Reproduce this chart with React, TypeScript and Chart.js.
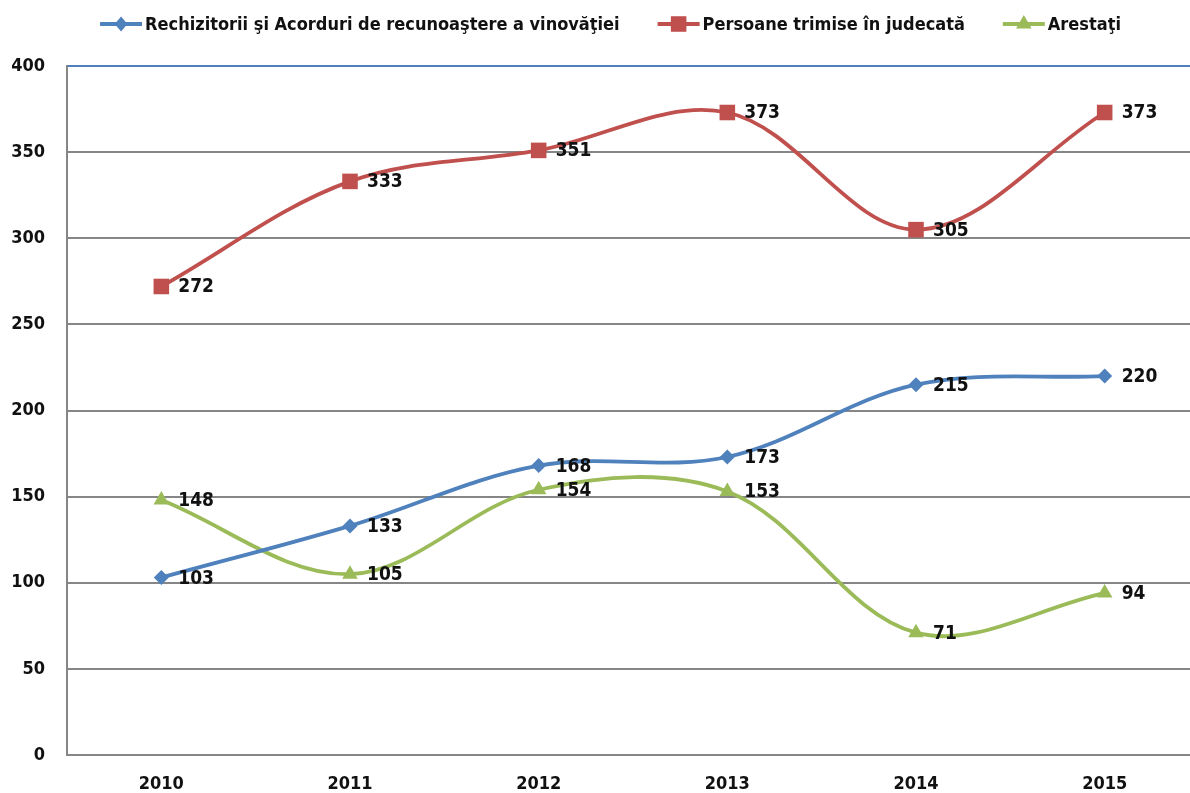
import React, { useEffect, useRef } from "react";
import { Chart, registerables } from "chart.js";

Chart.register(...registerables);

// ---- data ----
const years = ["2010", "2011", "2012", "2013", "2014", "2015"];
const rechizitorii = [103, 133, 168, 173, 215, 220];
const persoane = [272, 333, 351, 373, 305, 373];
const arestati = [148, 105, 154, 153, 71, 94];
const seriesNames = [
  "Rechizitorii şi Acorduri de recunoaştere a vinovăţiei",
  "Persoane trimise în judecată",
  "Arestaţi",
];
const yMin = 0;
const yMax = 400;
const yStep = 50;

// ---- styles ----
const BLUE = "#4F81BD";
const RED = "#C0504D";
const GREEN = "#9BBB59";
const GRID = "#868686";
const TEXT = "#111111";
const FONT_FAMILY = "'DejaVu Sans Condensed', 'DejaVu Sans', sans-serif";
const CANVAS_W = 1210;

type Marker = { style: "rectRot" | "rect" | "triangle"; radius: number };
const markers: Marker[] = [
  { style: "rectRot", radius: 7.5 },
  { style: "rect", radius: 11 },
  { style: "triangle", radius: 9 },
];
const colors = [BLUE, RED, GREEN];

function drawMarker(ctx: CanvasRenderingContext2D, m: Marker, x: number, y: number, color: string) {
  ctx.save();
  ctx.fillStyle = color;
  ctx.beginPath();
  const r = m.radius;
  if (m.style === "rect") {
    const s = Math.SQRT1_2 * r;
    ctx.rect(x - s, y - s, 2 * s, 2 * s);
  } else if (m.style === "rectRot") {
    ctx.moveTo(x, y - r);
    ctx.lineTo(x + r * 0.85, y);
    ctx.lineTo(x, y + r);
    ctx.lineTo(x - r * 0.85, y);
    ctx.closePath();
  } else {
    ctx.moveTo(x, y - r);
    ctx.lineTo(x + r * 0.866, y + r * 0.5);
    ctx.lineTo(x - r * 0.866, y + r * 0.5);
    ctx.closePath();
  }
  ctx.fill();
  ctx.restore();
}

const legendPlugin = {
  id: "customLegend",
  afterDraw(chart: any) {
    const ctx: CanvasRenderingContext2D = chart.ctx;
    ctx.save();
    ctx.font = `bold 18px ${FONT_FAMILY}`;
    const symW = 42;
    const gapSym = 3;
    const gapItem = 38;
    const y = 24;
    const widths = seriesNames.map((n) => symW + gapSym + ctx.measureText(n).width);
    const total = widths.reduce((a, b) => a + b, 0) + gapItem * (widths.length - 1);
    let x = 610.5 - total / 2;
    seriesNames.forEach((name, i) => {
      ctx.strokeStyle = colors[i];
      ctx.lineWidth = 4;
      ctx.beginPath();
      ctx.moveTo(x, y);
      ctx.lineTo(x + symW, y);
      ctx.stroke();
      drawMarker(ctx, markers[i], x + symW / 2, y, colors[i]);
      ctx.fillStyle = TEXT;
      ctx.textAlign = "left";
      ctx.textBaseline = "middle";
      ctx.fillText(name, x + symW + gapSym, y + 1);
      x += widths[i] + gapItem;
    });
    ctx.restore();
  },
};

const dataLabelPlugin = {
  id: "dataLabels",
  afterDatasetsDraw(chart: any) {
    const ctx: CanvasRenderingContext2D = chart.ctx;
    ctx.save();
    ctx.font = `bold 19px ${FONT_FAMILY}`;
    ctx.fillStyle = TEXT;
    ctx.textAlign = "left";
    ctx.textBaseline = "middle";
    chart.data.datasets.forEach((ds: any, di: number) => {
      const meta = chart.getDatasetMeta(di);
      meta.data.forEach((pt: any, i: number) => {
        ctx.fillText(String(ds.data[i]), pt.x + 17, pt.y + 1);
      });
    });
    ctx.restore();
  },
};

export default function App() {
  const ref = useRef<HTMLCanvasElement | null>(null);

  useEffect(() => {
    if (!ref.current) return;
    const series = [rechizitorii, persoane, arestati];
    const chart = new Chart(ref.current, {
      type: "line",
      data: {
        labels: years,
        datasets: series.map((d, i) => ({
          label: seriesNames[i],
          data: d,
          borderColor: colors[i],
          backgroundColor: colors[i],
          borderWidth: 3.8,
          pointStyle: markers[i].style,
          pointRadius: markers[i].radius,
          pointHoverRadius: markers[i].radius,
          pointBorderWidth: 0,
          pointBackgroundColor: colors[i],
          pointBorderColor: colors[i],
          tension: 0.35,
          fill: false,
        })),
      },
      options: {
        animation: false,
        responsive: false,
        devicePixelRatio: 1,
        layout: { padding: { top: 66, left: 0, right: 0, bottom: 0 } },
        plugins: {
          legend: { display: false },
          tooltip: { enabled: false },
          title: { display: false },
        },
        scales: {
          x: {
            offset: true,
            grid: { display: false, drawTicks: false },
            border: { display: true, color: GRID, width: 2 },
            ticks: {
              color: TEXT,
              font: { family: FONT_FAMILY, size: 18, weight: "bold" },
              padding: 19,
              maxRotation: 0,
            },
            afterFit(scale: any) {
              scale.height = 38;
            },
          },
          y: {
            min: yMin,
            max: yMax,
            ticks: {
              stepSize: yStep,
              color: TEXT,
              font: { family: FONT_FAMILY, size: 18, weight: "bold" },
              padding: 22,
            },
            grid: {
              drawTicks: false,
              lineWidth: 2,
              color: (c: any) => (c.tick && c.tick.value === yMax ? BLUE : GRID),
            },
            border: { display: true, color: GRID, width: 2 },
            afterFit(scale: any) {
              scale.width = 67;
            },
          },
        },
      },
      plugins: [legendPlugin, dataLabelPlugin],
    });
    return () => chart.destroy();
  }, []);

  return (
    <div
      style={{
        position: "fixed",
        left: 0,
        top: 0,
        width: 1190,
        height: 793,
        overflow: "hidden",
        background: "#fff",
      }}
    >
      <div style={{ width: CANVAS_W, height: 793 }}>
        <canvas ref={ref} width={CANVAS_W} height={793} style={{ display: "block" }} />
      </div>
    </div>
  );
}
